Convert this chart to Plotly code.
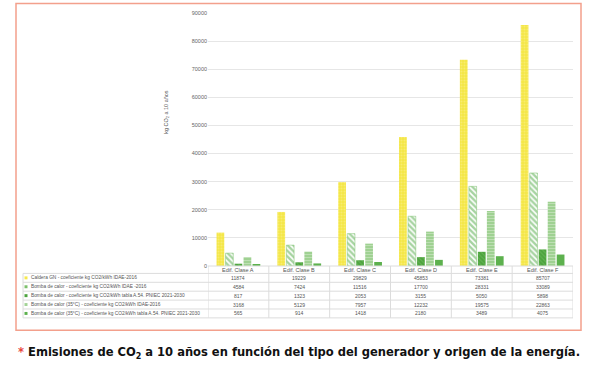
import plotly.graph_objects as go

categories = ["Edif. Clase A", "Edif. Clase B", "Edif. Clase C", "Edif. Clase D", "Edif. Clase E", "Edif. Clase F"]
series_names = [
    "Caldera GN - coeficiente kg CO2/kWh IDAE-2016",
    "Bomba de calor - coeficiente kg CO2/kWh IDAE -2016",
    "Bomba de calor - coeficiente kg CO2/kWh tabla A.54. PNIEC 2021-2030",
    "Bomba de calor (35°C) - coeficiente kg CO2/kWh IDAE-2016",
    "Bomba de calor (35°C) - coeficiente kg CO2/kWh tabla A.54. PNIEC 2021-2030",
]
caldera_gn = [11874, 19229, 29829, 45853, 73381, 85707]
bomba_idae = [4584, 7424, 11516, 17700, 28331, 33089]
bomba_pniec = [817, 1323, 2053, 3155, 5050, 5898]
bomba35_idae = [3168, 5129, 7957, 12232, 19575, 22863]
bomba35_pniec = [565, 914, 1418, 2180, 3489, 4075]
y_ticks = [0, 10000, 20000, 30000, 40000, 50000, 60000, 70000, 80000, 90000]

all_series = [caldera_gn, bomba_idae, bomba_pniec, bomba35_idae, bomba35_pniec]

styles = [
    dict(color="#F6E84C", pattern=dict(shape=".", bgcolor="#F4E646", fgcolor="#FBF29A", size=3, solidity=0.35), line=dict(width=0)),
    dict(color="#4EA844", pattern=dict(shape="\\", bgcolor="#FFFFFF", fgcolor="#4EA844", size=4, solidity=0.6), line=dict(width=0.5, color="#7DC06E")),
    dict(color="#4DA43E", pattern=dict(shape="\\", bgcolor="#4DA43E", fgcolor="#7CC06C", size=3, solidity=0.35), line=dict(width=0)),
    dict(color="#A3D396", pattern=dict(shape="-", bgcolor="#9FD192", fgcolor="#E2F1DD", size=3, solidity=0.3), line=dict(width=0)),
    dict(color="#5DB14E", line=dict(width=0)),
]
swatch_colors = ["#F6E84C", "#7CC06C", "#4DA43E", "#A3D396", "#5DB14E"]

fig = go.Figure()
for name, vals, st in zip(series_names, all_series, styles):
    fig.add_trace(go.Bar(x=categories, y=vals, name=name, marker=st, showlegend=False))

W, H = 600, 376
L, R, T, B = 208, 27, 10, 110
PH = H - T - B  # 256
PW = W - L - R  # 365

def ypp(p):
    return (H - B - p) / PH

def xpp(p):
    return (p - L) / PW

shapes = []
annotations = []
grid = "#DCDCDC"

# table horizontal lines
shapes.append(dict(type="line", xref="paper", yref="paper", x0=xpp(208), x1=xpp(573), y0=ypp(266), y1=ypp(266), line=dict(color=grid, width=1)))
row_bounds = [273.5, 282.5, 291.5, 300.5, 309.5, 318.5]
for rb in row_bounds:
    shapes.append(dict(type="line", xref="paper", yref="paper", x0=xpp(23), x1=xpp(573), y0=ypp(rb), y1=ypp(rb), line=dict(color=grid, width=1)))
# vertical lines
shapes.append(dict(type="line", xref="paper", yref="paper", x0=xpp(23), x1=xpp(23), y0=ypp(273.5), y1=ypp(318.5), line=dict(color=grid, width=1)))
for i in range(len(categories) + 1):
    shapes.append(dict(type="line", xref="x", yref="paper", x0=i - 0.5, x1=i - 0.5, y0=ypp(266), y1=ypp(318.5), line=dict(color=grid, width=1)))

# header labels
for c in categories:
    annotations.append(dict(x=c, y=ypp(270), xref="x", yref="paper", text=c, showarrow=False,
                            font=dict(size=5.5, color="#555555", family="Liberation Sans"), xanchor="center", yanchor="middle"))
# rows
row_centers = [278, 287, 296, 305, 314]
for name, vals, sc, rc in zip(series_names, all_series, swatch_colors, row_centers):
    shapes.append(dict(type="rect", xref="paper", yref="paper", x0=xpp(24.5), x1=xpp(27.5), y0=ypp(rc + 1.5), y1=ypp(rc - 1.5), fillcolor=sc, line=dict(width=0)))
    annotations.append(dict(x=xpp(28.5), y=ypp(rc), xref="paper", yref="paper", text=name, showarrow=False,
                            font=dict(size=4.8, color="#555555", family="Liberation Sans"), xanchor="left", yanchor="middle"))
    for c, v in zip(categories, vals):
        annotations.append(dict(x=c, y=ypp(rc), xref="x", yref="paper", text=str(v), showarrow=False,
                                font=dict(size=5, color="#555555", family="Liberation Sans"), xanchor="center", yanchor="middle"))

# y-axis title
annotations.append(dict(x=xpp(167), y=ypp(110), xref="paper", yref="paper", text="kg CO<sub>2</sub> a 10 años",
                        textangle=-90, showarrow=False, font=dict(size=5.5, color="#555555", family="Liberation Sans"),
                        xanchor="center", yanchor="middle"))

# outer border
shapes.append(dict(type="rect", xref="paper", yref="paper", x0=xpp(16), x1=xpp(581), y0=ypp(331), y1=ypp(0.5),
                   line=dict(color="#F3A08C", width=1.5), fillcolor="rgba(0,0,0,0)"))

# caption
annotations.append(dict(x=xpp(16), y=ypp(354), xref="paper", yref="paper",
                        text="<span style='color:#E8473B'>*</span> Emisiones de CO<sub>2</sub> a 10 años en función del tipo del generador y origen de la energía.",
                        showarrow=False, xanchor="left", yanchor="middle",
                        font=dict(size=12.8, color="#111111", family="Liberation Sans Narrow, DejaVu Sans Condensed, sans-serif", weight="bold")))

fig.update_layout(
    width=W, height=H,
    margin=dict(l=L, r=R, t=T, b=B),
    paper_bgcolor="white", plot_bgcolor="white",
    barmode="group", bargap=0.26, bargroupgap=0.14,
    shapes=shapes, annotations=annotations,
    xaxis=dict(showticklabels=False, showgrid=False, zeroline=False, showline=False, ticks="", range=[-0.5, 5.5]),
    yaxis=dict(range=[0, 90000], tickvals=y_ticks, ticktext=[str(t) for t in y_ticks], showgrid=True, gridcolor="#E6E6E6",
               gridwidth=1, zeroline=False, showline=False, ticks="", ticklen=0,
               tickfont=dict(size=5.5, color="#666666", family="Liberation Sans")),
    font=dict(family="Liberation Sans"),
)

fig.write_html("out.html", config={"displayModeBar": False},
               post_script="document.body.style.margin='0';document.body.style.overflow='hidden';")
